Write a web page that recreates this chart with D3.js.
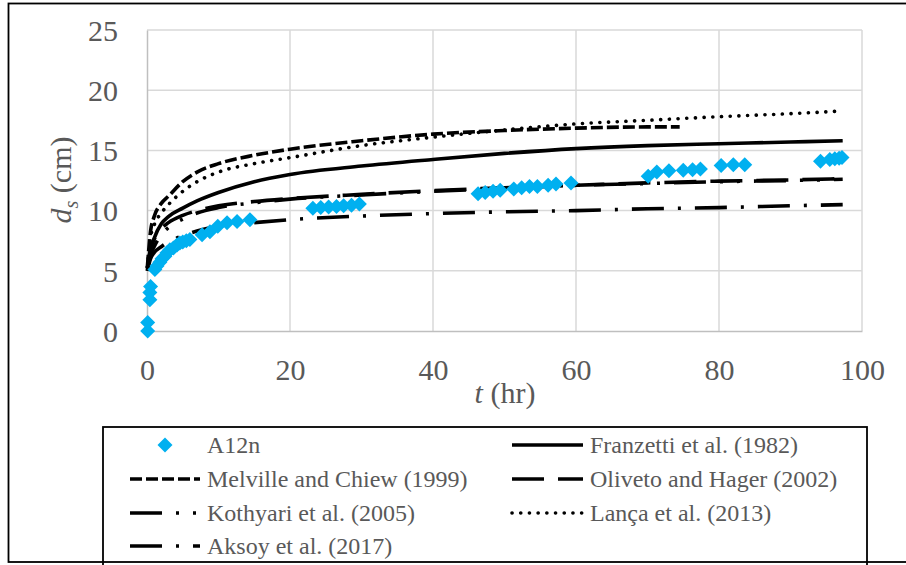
<!DOCTYPE html>
<html><head><meta charset="utf-8">
<script src="https://cdn.jsdelivr.net/npm/d3@7"></script>
<style>body{margin:0;background:#fff}svg{display:block}svg text{font-family:'Liberation Serif','DejaVu Serif',serif !important}</style>
</head><body>
<script>
// ---- data ----
const xTicks = [0, 20, 40, 60, 80, 100];
const yTicks = [0, 5, 10, 15, 20, 25];

const obsT = [0.1, 0.1, 0.4, 0.4, 0.5, 1.1, 1.4, 1.8, 2.1, 2.5, 2.8, 3.2, 3.7, 4.2, 4.6, 5.0, 5.5, 6.0, 7.7, 8.8, 9.9, 11.2, 12.6, 14.4,
  23.2, 24.3, 25.4, 26.5, 27.5, 28.6, 29.7,
  46.3, 47.3, 48.4, 49.4, 51.3, 52.4, 53.5, 54.6, 56.1, 57.2, 59.3,
  70.1, 71.3, 73.0, 75.0, 76.3, 77.4, 80.3, 82.0, 83.6,
  94.2, 95.5, 96.2, 96.8, 97.2];
const obsD = [0, 0.7, 2.6, 3.2, 3.7, 5.1, 5.4, 5.7, 6.0, 6.2, 6.5, 6.75, 6.9, 7.15, 7.3, 7.4, 7.5, 7.6, 8.0, 8.25, 8.7, 9.0, 9.1, 9.25,
  10.2, 10.25, 10.3, 10.35, 10.4, 10.45, 10.55,
  11.4, 11.5, 11.6, 11.7, 11.8, 11.9, 12.0, 12.0, 12.1, 12.2, 12.3,
  12.85, 13.2, 13.3, 13.35, 13.4, 13.45, 13.75, 13.8, 13.8,
  14.1, 14.25, 14.3, 14.35, 14.4];

const tFranzetti = [0.05, 0.5, 1, 2, 3, 5, 7, 10, 15, 20, 30, 40, 50, 60, 70, 80, 90, 97.3];
const dFranzetti = [5.2, 6.8, 7.7, 8.9, 9.5, 10.2, 10.8, 11.5, 12.4, 13.0, 13.7, 14.25, 14.75, 15.15, 15.4, 15.55, 15.7, 15.8];

const tMelville = [0.05, 0.5, 1, 2, 3, 5, 7, 10, 15, 20, 30, 40, 50, 60, 70, 74.5];
const dMelville = [5.3, 8.3, 9.5, 10.6, 11.2, 12.4, 13.2, 13.9, 14.6, 15.1, 15.8, 16.35, 16.65, 16.85, 16.95, 16.95];

const tOliveto = [0.05, 0.5, 1, 2, 3, 5, 7, 10, 15, 20, 30, 40, 50, 60, 70, 80, 90, 97.3];
const dOliveto = [5.2, 6.8, 7.6, 8.5, 9.0, 9.6, 10.0, 10.4, 10.75, 11.0, 11.35, 11.65, 11.9, 12.1, 12.3, 12.45, 12.55, 12.65];

const tKothyari = [0.05, 0.5, 1, 2, 3, 5, 7, 10, 15, 20, 30, 40, 50, 60, 70, 80, 90, 97.3];
const dKothyari = [5.0, 6.3, 7.0, 8.0, 8.6, 9.3, 9.8, 10.25, 10.65, 10.95, 11.3, 11.6, 11.85, 12.1, 12.25, 12.4, 12.5, 12.6];

const tLanca = [0.05, 0.5, 1, 2, 3, 5, 7, 10, 15, 20, 30, 40, 50, 60, 70, 80, 90, 96.5];
const dLanca = [5.3, 7.8, 8.8, 9.8, 10.5, 11.6, 12.4, 13.2, 13.9, 14.4, 15.4, 16.1, 16.7, 17.2, 17.5, 17.8, 18.05, 18.25];

const tAksoy = [0.05, 0.5, 1, 2, 3, 5, 7, 10, 15, 20, 30, 40, 50, 60, 70, 80, 90, 97.3];
const dAksoy = [5.0, 6.0, 6.5, 7.0, 7.4, 7.9, 8.3, 8.7, 9.0, 9.25, 9.55, 9.75, 9.9, 10.0, 10.15, 10.25, 10.4, 10.5];

const seriesNames = ["A12n", "Franzetti et al. (1982)", "Melville and Chiew (1999)", "Oliveto and Hager (2002)",
  "Kothyari et al. (2005)", "Lança et al. (2013)", "Aksoy et al. (2017)"];

// ---- chart ----
const W = 906, H = 565;
const FONT = "'Liberation Serif','DejaVu Serif',serif";
const svg = d3.select("body").append("svg").attr("width", W).attr("height", H).attr("font-family", FONT);
svg.append("rect").attr("width", W).attr("height", H).attr("fill", "#fff");

const x = d3.scaleLinear().domain([0, 100]).range([147, 862]);
const y = d3.scaleLinear().domain([0, 25]).range([331, 30]);
const grey = "#595959";

// gridlines
svg.append("g").selectAll("line").data(yTicks.slice(1)).join("line")
  .attr("x1", x(0)).attr("x2", x(100)).attr("y1", d => y(d)).attr("y2", d => y(d))
  .attr("stroke", "#d9d9d9").attr("stroke-width", 1.5);
svg.append("g").selectAll("line").data(xTicks.slice(1)).join("line")
  .attr("y1", y(0)).attr("y2", y(25)).attr("x1", d => x(d)).attr("x2", d => x(d))
  .attr("stroke", "#d9d9d9").attr("stroke-width", 1.5);

// axes
const xAxis = svg.append("g").attr("transform", `translate(0,${y(0)})`)
  .call(d3.axisBottom(x).tickValues(xTicks).tickSize(0).tickPadding(30).tickFormat(d3.format("d")));
const yAxis = svg.append("g").attr("transform", `translate(${x(0)},0)`)
  .call(d3.axisLeft(y).tickValues(yTicks).tickSize(0).tickPadding(29).tickFormat(d3.format("d")));
[xAxis, yAxis].forEach(a => {
  a.attr("font-family", FONT).attr("font-size", 30);
  a.select(".domain").attr("stroke", "#bfbfbf").attr("stroke-width", 1.5);
  a.selectAll("text").attr("fill", grey).attr("font-size", 30).attr("font-family", FONT);
});
xAxis.selectAll("text").attr("dy", null).attr("y", 49);
yAxis.selectAll("text").attr("dy", "0.34em");

// axis titles
const xt = svg.append("text").attr("x", 505).attr("y", 403).attr("text-anchor", "middle")
  .attr("fill", grey).attr("font-size", 30);
xt.append("tspan").attr("font-style", "italic").text("t");
xt.append("tspan").text(" (hr)");

const yt = svg.append("text").attr("transform", "translate(71,180) rotate(-90)").attr("text-anchor", "middle")
  .attr("fill", grey).attr("font-size", 30);
yt.append("tspan").attr("font-style", "italic").text("d");
yt.append("tspan").attr("font-style", "italic").attr("font-size", 20).attr("dy", 7).text("s");
yt.append("tspan").attr("dy", -7).text(" (cm)");

// curves
const styles = {
  franzetti: {dash: null, cap: "butt"},
  melville: {dash: "12,4", cap: "butt"},
  oliveto: {dash: "32,14", cap: "butt"},
  kothyari: {dash: "32,14,3,14,3,14", cap: "butt"},
  lanca: {dash: "0.1,8.6", cap: "round"},
  aksoy: {dash: "32,14,3,14", cap: "butt"}
};
const curves = [
  ["franzetti", tFranzetti, dFranzetti],
  ["melville", tMelville, dMelville],
  ["oliveto", tOliveto, dOliveto],
  ["kothyari", tKothyari, dKothyari],
  ["lanca", tLanca, dLanca],
  ["aksoy", tAksoy, dAksoy]
];
const line = d3.line().x(d => x(d[0])).y(d => y(d[1])).curve(d3.curveMonotoneX);
curves.forEach(([k, ts, ds]) => {
  const st = styles[k];
  svg.append("path").datum(ts.map((t, i) => [t, ds[i]])).attr("d", line)
    .attr("fill", "none").attr("stroke", "#000").attr("stroke-width", 3.6)
    .attr("stroke-dasharray", st.dash).attr("stroke-linecap", st.cap);
});

// observations
const diamond = "M0,-7.5L7.5,0L0,7.5L-7.5,0Z";
svg.append("g").selectAll("path").data(obsT.map((t, i) => [t, obsD[i]])).join("path")
  .attr("d", diamond).attr("transform", d => `translate(${x(d[0])},${y(d[1])})`)
  .attr("fill", "#00B0F0");

// legend
const lg = svg.append("g");
lg.append("rect").attr("x", 103).attr("y", 427).attr("width", 764).attr("height", 140)
  .attr("fill", "#fff").attr("stroke", "#000").attr("stroke-width", 1.8);
const rows = [445, 479, 513, 546];
const items = [
  {name: seriesNames[0], col: 0, row: 0, key: "obs"},
  {name: seriesNames[1], col: 1, row: 0, key: "franzetti"},
  {name: seriesNames[2], col: 0, row: 1, key: "melville"},
  {name: seriesNames[3], col: 1, row: 1, key: "oliveto"},
  {name: seriesNames[4], col: 0, row: 2, key: "kothyari"},
  {name: seriesNames[5], col: 1, row: 2, key: "lanca"},
  {name: seriesNames[6], col: 0, row: 3, key: "aksoy"}
];
const colX = [[130, 200, 207], [512, 583, 590]];
items.forEach(it => {
  const [x1, x2, tx] = colX[it.col];
  const cy = rows[it.row];
  if (it.key === "obs") {
    lg.append("path").attr("d", diamond).attr("transform", `translate(${(x1 + x2) / 2},${cy})`).attr("fill", "#00B0F0");
  } else {
    const st = styles[it.key];
    lg.append("line").attr("x1", x1).attr("x2", x2).attr("y1", cy).attr("y2", cy)
      .attr("stroke", "#000").attr("stroke-width", 3.6)
      .attr("stroke-dasharray", st.dash).attr("stroke-linecap", st.cap);
  }
  lg.append("text").attr("x", tx).attr("y", cy + 8).attr("fill", grey).attr("font-size", 24).text(it.name);
});

// outer border (drawn last so it sits on top)
svg.append("rect").attr("x", 8.5).attr("y", 3.5).attr("width", 905).attr("height", 558.5)
  .attr("fill", "none").attr("stroke", "#000").attr("stroke-width", 1.8);
</script>
</body></html>
